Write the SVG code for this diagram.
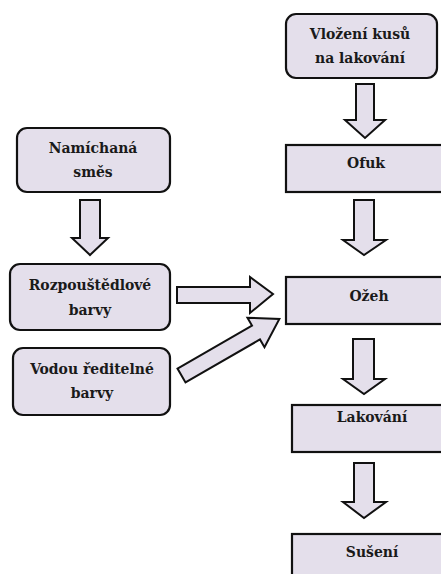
<svg xmlns="http://www.w3.org/2000/svg" width="441" height="574" viewBox="0 0 441 574">
  <style>
    .box { fill: #E4DFEB; stroke: #111; stroke-width: 2.2; }
    .arr { fill: #E4DFEB; stroke: #111; stroke-width: 2; stroke-linejoin: miter; }
    .lbl { font-family: 'DejaVu Serif Condensed', 'DejaVu Serif', 'Liberation Serif', serif; font-stretch: condensed; font-weight: 700; font-size: 15.5px; fill: #1a1a1a; text-anchor: middle; }
  </style>
  <rect width="441" height="574" fill="#fff"/>

  <!-- right column: process steps -->
  <g id="vlozeni">
    <rect class="box" x="286" y="14" width="151" height="64" rx="10"/>
    <text class="lbl" x="360" y="39">Vložení kusů</text>
    <text class="lbl" x="360" y="63">na lakování</text>
  </g>
  <g id="ofuk">
    <rect class="box" x="286" y="145" width="170" height="47"/>
    <text class="lbl" x="366" y="168">Ofuk</text>
  </g>
  <g id="ozeh">
    <rect class="box" x="286" y="277" width="170" height="47"/>
    <text class="lbl" x="369" y="301">Ožeh</text>
  </g>
  <g id="lakovani">
    <rect class="box" x="292" y="405" width="170" height="47"/>
    <text class="lbl" x="372" y="422">Lakování</text>
  </g>
  <g id="suseni">
    <rect class="box" x="292" y="534" width="170" height="60"/>
    <text class="lbl" x="372" y="557">Sušení</text>
  </g>

  <!-- left column: paint preparation -->
  <g id="namichana">
    <rect class="box" x="17" y="128" width="153" height="64" rx="10"/>
    <text class="lbl" x="93" y="153">Namíchaná</text>
    <text class="lbl" x="93" y="177">směs</text>
  </g>
  <g id="rozpoustedlove">
    <rect class="box" x="10" y="264" width="160" height="66" rx="10"/>
    <text class="lbl" x="90" y="290">Rozpouštědlové</text>
    <text class="lbl" x="90" y="315">barvy</text>
  </g>
  <g id="vodou">
    <rect class="box" x="13" y="348" width="157" height="67" rx="10"/>
    <text class="lbl" x="92" y="374">Vodou ředitelné</text>
    <text class="lbl" x="92" y="398">barvy</text>
  </g>

  <!-- block arrows -->
  <g id="connectors">
    <polygon class="arr" points="356,84 374,84 374,120 385,120 365,138 345,120 356,120"/>
    <polygon class="arr" points="354,200 374,200 374,240 386,240 364,255 343,240 354,240"/>
    <polygon class="arr" points="353,339 374,339 374,379 385,379 364,394 343,379 353,379"/>
    <polygon class="arr" points="354,463 374,463 374,502 386,502 364,518 343,502 354,502"/>
    <polygon class="arr" points="80,200 100,200 100,238 108,238 90,255 72,238 80,238"/>
    <polygon class="arr" points="177,287 250,287 250,277 273,294 250,313 250,303 177,303"/>
    <polygon class="arr" transform="translate(181.5,375.5) rotate(-30)" points="0,-8 86,-8 86,-17 113,0 86,17 86,8 0,8"/>
  </g>
</svg>
